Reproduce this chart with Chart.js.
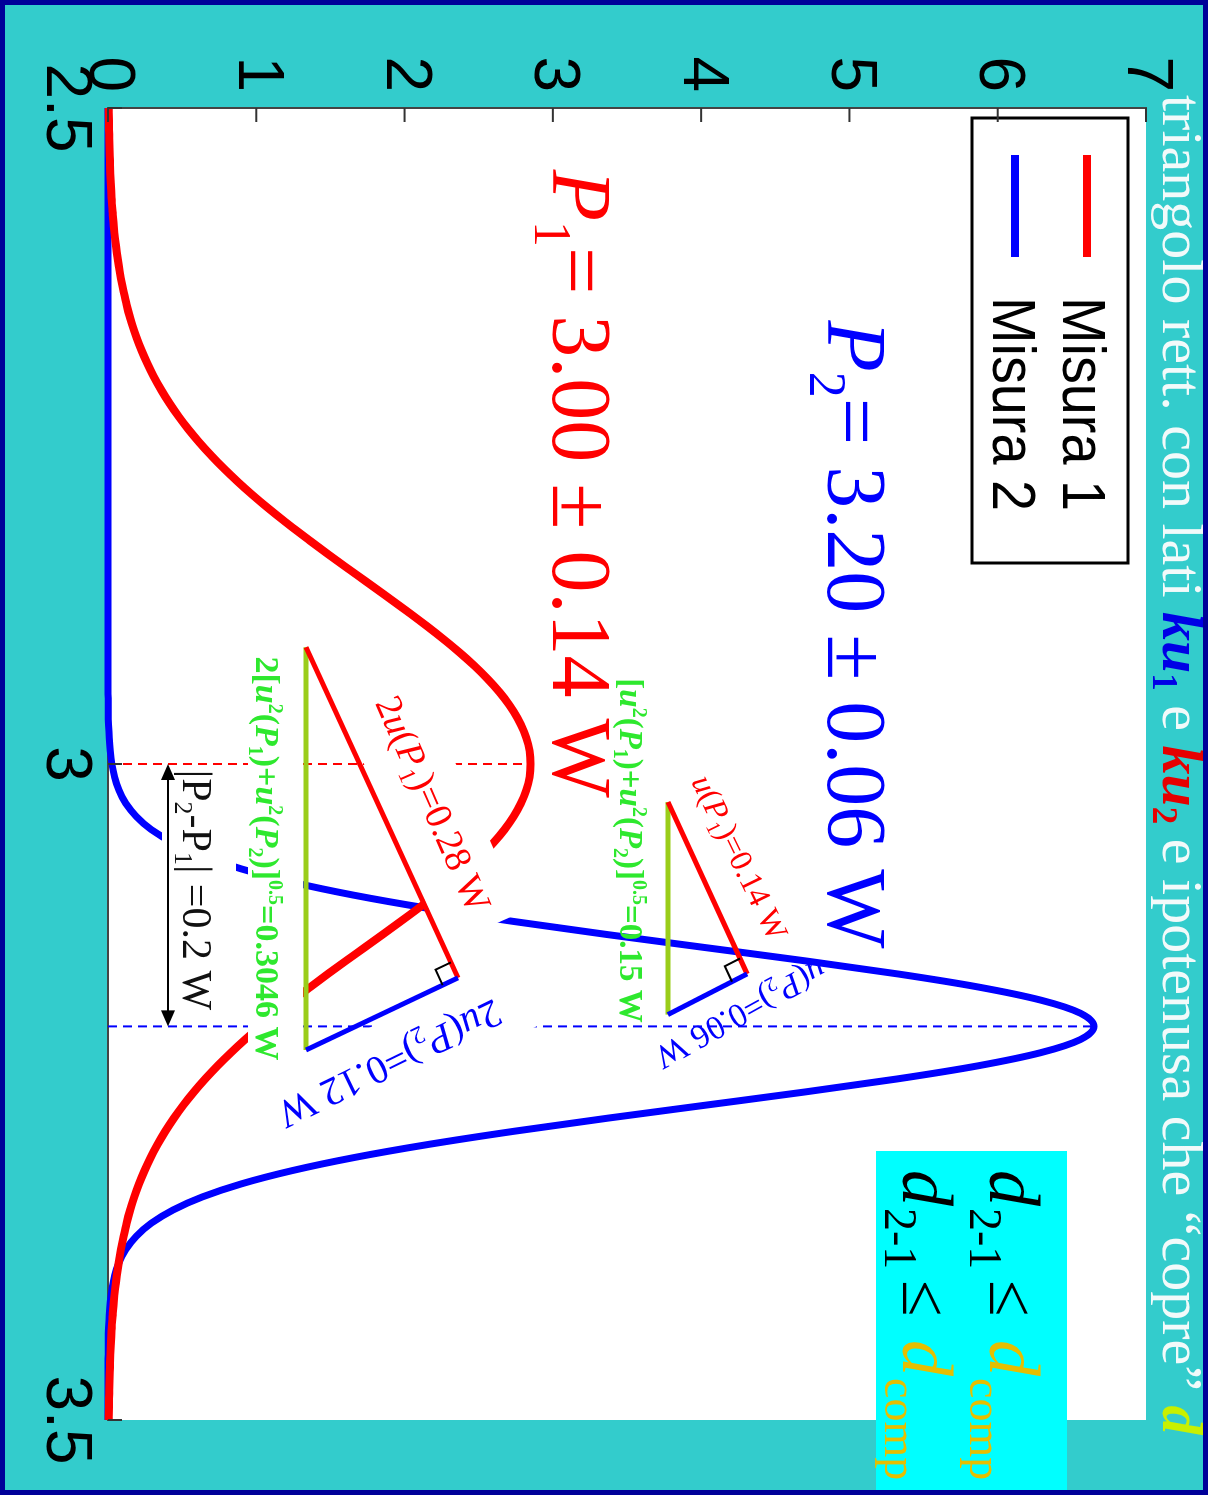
<!DOCTYPE html>
<html>
<head>
<meta charset="utf-8">
<script src="https://cdn.jsdelivr.net/npm/chart.js@4.4.1/dist/chart.umd.min.js"></script>
<style>
  html, body { margin: 0; padding: 0; background: #33cccc; overflow: hidden; }
  #slide { position: absolute; left: 0; top: 0; width: 1495px; height: 1208px;
           transform-origin: 0 0; transform: translate(1208px, 0) rotate(90deg); }
  canvas { display: block; }
</style>
</head>
<body>
<div id="slide"><canvas id="c" width="1495" height="1208"></canvas></div>
<script>
// Power values (W) along the horizontal axis
const xValues = [
  2.50, 2.51, 2.52, 2.53, 2.54, 2.55, 2.56, 2.57, 2.58, 2.59,
  2.60, 2.61, 2.62, 2.63, 2.64, 2.65, 2.66, 2.67, 2.68, 2.69,
  2.70, 2.71, 2.72, 2.73, 2.74, 2.75, 2.76, 2.77, 2.78, 2.79,
  2.80, 2.81, 2.82, 2.83, 2.84, 2.85, 2.86, 2.87, 2.88, 2.89,
  2.90, 2.91, 2.92, 2.93, 2.94, 2.95, 2.96, 2.97, 2.98, 2.99,
  3.00, 3.01, 3.02, 3.03, 3.04, 3.05, 3.06, 3.07, 3.08, 3.09,
  3.10, 3.11, 3.12, 3.13, 3.14, 3.15, 3.16, 3.17, 3.18, 3.19,
  3.20, 3.21, 3.22, 3.23, 3.24, 3.25, 3.26, 3.27, 3.28, 3.29,
  3.30, 3.31, 3.32, 3.33, 3.34, 3.35, 3.36, 3.37, 3.38, 3.39,
  3.40, 3.41, 3.42, 3.43, 3.44, 3.45, 3.46, 3.47, 3.48, 3.49,
  3.50
];

// Probability density of measurement 1 (P1 = 3.00 ± 0.14 W)
const misura1 = [
  0.005, 0.006, 0.008, 0.010, 0.013, 0.016, 0.020, 0.025, 0.032, 0.039,
  0.048, 0.059, 0.072, 0.087, 0.105, 0.125, 0.149, 0.177, 0.209, 0.246,
  0.287, 0.334, 0.386, 0.444, 0.508, 0.579, 0.656, 0.739, 0.829, 0.925,
  1.027, 1.135, 1.247, 1.364, 1.483, 1.605, 1.729, 1.852, 1.974, 2.093,
  2.208, 2.318, 2.421, 2.515, 2.600, 2.674, 2.736, 2.785, 2.821, 2.843,
  2.850, 2.843, 2.821, 2.785, 2.736, 2.674, 2.600, 2.515, 2.421, 2.318,
  2.208, 2.093, 1.974, 1.852, 1.729, 1.605, 1.483, 1.364, 1.247, 1.135,
  1.027, 0.925, 0.829, 0.739, 0.656, 0.579, 0.508, 0.444, 0.386, 0.334,
  0.287, 0.246, 0.209, 0.177, 0.149, 0.125, 0.105, 0.087, 0.072, 0.059,
  0.048, 0.039, 0.032, 0.025, 0.020, 0.016, 0.013, 0.010, 0.008, 0.006,
  0.005
];

// Probability density of measurement 2 (P2 = 3.20 ± 0.06 W)
const misura2 = [
  0, 0, 0, 0, 0, 0, 0, 0, 0, 0,
  0, 0, 0, 0, 0, 0, 0, 0, 0, 0,
  0, 0, 0, 0, 0, 0, 0, 0, 0, 0,
  0, 0, 0, 0, 0, 0, 0, 0, 0, 0,
  0, 0, 0, 0, 0, 0.001, 0.002, 0.004, 0.008, 0.015,
  0.026, 0.044, 0.074, 0.120, 0.190, 0.292, 0.437, 0.636, 0.900, 1.239,
  1.658, 2.159, 2.734, 3.367, 4.033, 4.699, 5.325, 5.869, 6.291, 6.558,
  6.650, 6.558, 6.291, 5.869, 5.325, 4.699, 4.033, 3.367, 2.734, 2.159,
  1.658, 1.239, 0.900, 0.636, 0.437, 0.292, 0.190, 0.120, 0.074, 0.044,
  0.026, 0.015, 0.008, 0.004, 0.002, 0.001, 0, 0, 0, 0,
  0
];

const seriesNames = ['Misura 1', 'Misura 2'];
const seriesColors = ['#ff0000', '#0000ff'];
const means = [3.00, 3.20];
const xTicks = [2.5, 3, 3.5];
const yTicks = [0, 1, 2, 3, 4, 5, 6, 7];

// Triangle vertices (x in W, y in density units): g1/g2 = hypotenuse ends, r = right angle
const triSmall = { g1: [3.029, 3.776], g2: [3.191, 3.776], r: [3.160, 4.310] };
const triLarge = { g1: [2.911, 1.335], g2: [3.218, 1.335], r: [3.163, 2.360] };
// Double arrow marking |P2 - P1|
const arrowSpan = [3.00, 3.20];
const arrowLevel = 0.405;

const SERIF = '"Liberation Serif", "Times New Roman", serif';
const SANS = '"Liberation Sans", Arial, sans-serif';

function seg(t, size, opt) {
  return Object.assign({ t: t, size: size, style: '', color: '#000', shift: 0, family: SERIF, sx: 1 }, opt || {});
}
function fontOf(s) { return (s.style + ' ' + s.size + 'px ' + s.family).trim(); }
function richWidth(ctx, segs) {
  let w = 0;
  for (const s of segs) { ctx.font = fontOf(s); w += ctx.measureText(s.t).width * s.sx; }
  return w;
}
// Draws a run of mixed-style text; anchor is the text centre (align 'center') or baseline start ('left')
function drawRich(ctx, segs, x, y, o) {
  o = o || {};
  ctx.save();
  ctx.translate(x, y);
  if (o.angle) ctx.rotate(o.angle * Math.PI / 180);
  const w = richWidth(ctx, segs);
  let cx = o.align === 'center' ? -w / 2 : 0;
  if (o.box) {
    ctx.fillStyle = '#ffffff';
    ctx.fillRect(o.box[0], -o.box[2], o.box[1] - o.box[0], o.box[2] + o.box[3]);
  }
  ctx.textAlign = 'left';
  ctx.textBaseline = 'alphabetic';
  const base = o.base || 0;
  for (const s of segs) {
    ctx.font = fontOf(s);
    ctx.fillStyle = s.color;
    ctx.save();
    ctx.translate(cx, base + s.shift);
    ctx.scale(s.sx, 1);
    ctx.fillText(s.t, 0, 0);
    ctx.restore();
    cx += ctx.measureText(s.t).width * s.sx;
  }
  ctx.restore();
}

// Text runs of the annotations
const RED = '#ff0000', BLUE = '#0000ff', GREEN = '#2ee82e', BLACK = '#111111';
function uLabel(prefix, idx, value, size, color) {
  const sub = Math.round(size * 0.62);
  const out = [];
  if (prefix) out.push(seg(prefix, size, { color: color }));
  out.push(seg('u', size, { style: 'italic', color: color }));
  out.push(seg('(', size, { color: color }));
  out.push(seg('P', size, { style: 'italic', color: color }));
  out.push(seg(idx, sub, { color: color, shift: size * 0.2 }));
  out.push(seg(')=' + value + ' W', size, { color: color }));
  return out;
}
function quadLabel(prefix, value, size) {
  const sm = Math.round(size * 0.6);
  const b = 'bold', bi = 'bold italic';
  const out = [];
  out.push(seg(prefix + '[', size, { style: b, color: GREEN }));
  out.push(seg('u', size, { style: bi, color: GREEN }));
  out.push(seg('2', sm, { style: b, color: GREEN, shift: -size * 0.38 }));
  out.push(seg('(', size, { style: b, color: GREEN }));
  out.push(seg('P', size, { style: bi, color: GREEN }));
  out.push(seg('1', sm, { style: b, color: GREEN, shift: size * 0.2 }));
  out.push(seg(')+', size, { style: b, color: GREEN }));
  out.push(seg('u', size, { style: bi, color: GREEN }));
  out.push(seg('2', sm, { style: b, color: GREEN, shift: -size * 0.38 }));
  out.push(seg('(', size, { style: b, color: GREEN }));
  out.push(seg('P', size, { style: bi, color: GREEN }));
  out.push(seg('2', sm, { style: b, color: GREEN, shift: size * 0.2 }));
  out.push(seg(')]', size, { style: b, color: GREEN }));
  out.push(seg('0.5', sm, { style: b, color: GREEN, shift: -size * 0.38 }));
  out.push(seg('=' + value + ' W', size, { style: b, color: GREEN }));
  return out;
}

const labels = [
  { segs: uLabel('', '1', '0.14', 32, RED), x: 3.071, y: 4.265, angle: -26, size: 32 },
  { segs: uLabel('', '2', '0.06', 34, BLUE), x: 3.191, y: 4.270, angle: 61, size: 34 },
  { segs: quadLabel('', '0.15', 33), x: 3.066, y: 3.533, angle: 0, size: 33 },
  { segs: uLabel('2', '1', '0.28', 38, RED), x: 3.030, y: 2.198, angle: -24, size: 38, box: [-132, 135, 36, 48] },
  { segs: uLabel('2', '2', '0.12', 40, BLUE), x: 3.229, y: 1.902, angle: 64, size: 40, box: [-160, 128, 30, 42] },
  { segs: quadLabel('2', '0.3046', 34), x: 3.072, y: 1.079, angle: 0, size: 34, box: [-222, 222, 35, 20] },
  { segs: [seg('|P', 42, { color: BLACK }), seg('2', 26, { color: BLACK, shift: 8 }), seg('-P', 42, { color: BLACK }),
           seg('1', 26, { color: BLACK, shift: 8 }), seg('| =0.2 W', 42, { color: BLACK })],
    x: 3.096, y: 0.607, angle: 0, size: 42, box: [-120, 122, 38, 36] }
];

function bigLabel(idx, text, color) {
  return [seg('P', 84, { style: 'italic', color: color }),
          seg(idx, 52, { color: color, shift: 18 }),
          seg('= ' + text + ' W', 84, { color: color })];
}
const bigLabels = [
  { segs: bigLabel('1', '3.00 \u00B1 0.14', RED), x: 2.547, y: 3.00 },
  { segs: bigLabel('2', '3.20 \u00B1 0.06', BLUE), x: 2.662, y: 4.855 }
];

function line(ctx, a, b, color, w, dash) {
  ctx.save();
  ctx.strokeStyle = color; ctx.lineWidth = w; ctx.lineCap = 'butt';
  if (dash) ctx.setLineDash(dash);
  ctx.beginPath(); ctx.moveTo(a[0], a[1]); ctx.lineTo(b[0], b[1]); ctx.stroke();
  ctx.restore();
}

function drawTriangle(ctx, xs, ys, t) {
  const P = p => [xs.getPixelForValue(p[0]), ys.getPixelForValue(p[1])];
  const g1 = P(t.g1), g2 = P(t.g2), r = P(t.r);
  line(ctx, g1, g2, '#9acd1a', 5);
  line(ctx, g1, r, RED, 5);
  line(ctx, r, g2, BLUE, 5);
  // right-angle marker
  const unit = (a, b) => { const dx = b[0] - a[0], dy = b[1] - a[1], l = Math.hypot(dx, dy); return [dx / l, dy / l]; };
  const a = unit(r, g1), b = unit(r, g2), s = 17;
  ctx.save();
  ctx.strokeStyle = '#000'; ctx.lineWidth = 2;
  ctx.beginPath();
  ctx.moveTo(r[0] + a[0] * s, r[1] + a[1] * s);
  ctx.lineTo(r[0] + (a[0] + b[0]) * s, r[1] + (a[1] + b[1]) * s);
  ctx.lineTo(r[0] + b[0] * s, r[1] + b[1] * s);
  ctx.stroke();
  ctx.restore();
}

function arrowHead(ctx, tip, dir) {
  const L = 16, W = 7;
  ctx.beginPath();
  ctx.moveTo(tip[0], tip[1]);
  ctx.lineTo(tip[0] - dir * L, tip[1] - W);
  ctx.lineTo(tip[0] - dir * L, tip[1] + W);
  ctx.closePath();
  ctx.fill();
}

const slidePlugin = {
  id: 'slide',
  beforeDraw(chart) {
    const { ctx, chartArea: a, width, height } = chart;
    ctx.save();
    ctx.fillStyle = '#33cccc';
    ctx.fillRect(0, 0, width, height);
    ctx.fillStyle = '#ffffff';
    ctx.fillRect(a.left, a.top, a.right - a.left, a.bottom - a.top);
    ctx.restore();
  },
  beforeDatasetsDraw(chart) {
    const { ctx, scales: { x: xs, y: ys } } = chart;
    const series = [misura1, misura2];
    for (let k = 0; k < 2; k++) {
      const i = xValues.findIndex(v => Math.abs(v - means[k]) < 1e-9);
      const px = xs.getPixelForValue(means[k]);
      line(ctx, [px, ys.getPixelForValue(0)], [px, ys.getPixelForValue(series[k][i])], seriesColors[k], 2, [9, 6]);
    }
  },
  afterDatasetsDraw(chart) {
    const { ctx, scales: { x: xs, y: ys } } = chart;
    // labels that sit on opaque white boxes first
    for (const L of labels.filter(l => l.box)) {
      drawRich(ctx, L.segs, xs.getPixelForValue(L.x), ys.getPixelForValue(L.y),
               { align: 'center', angle: L.angle, box: L.box, base: L.size * 0.35 });
    }
    drawTriangle(ctx, xs, ys, triSmall);
    drawTriangle(ctx, xs, ys, triLarge);
    for (const L of labels.filter(l => !l.box)) {
      drawRich(ctx, L.segs, xs.getPixelForValue(L.x), ys.getPixelForValue(L.y),
               { align: 'center', angle: L.angle, base: L.size * 0.35 });
    }
    // |P2 - P1| double arrow
    const ay = ys.getPixelForValue(arrowLevel);
    const a0 = xs.getPixelForValue(arrowSpan[0]), a1 = xs.getPixelForValue(arrowSpan[1]);
    ctx.save();
    ctx.fillStyle = '#000';
    line(ctx, [a0 + 10, ay], [a1 - 10, ay], '#000', 2);
    arrowHead(ctx, [a0, ay], -1);
    arrowHead(ctx, [a1, ay], 1);
    ctx.restore();
    // P1 / P2 results
    for (const B of bigLabels) {
      drawRich(ctx, B.segs, xs.getPixelForValue(B.x), ys.getPixelForValue(B.y), { align: 'left' });
    }
    // legend
    ctx.save();
    ctx.fillStyle = '#fff';
    ctx.fillRect(118, 80, 445, 156);
    ctx.strokeStyle = '#000'; ctx.lineWidth = 3;
    ctx.strokeRect(118, 80, 445, 156);
    const rows = [{ v: 121, base: 145 }, { v: 193, base: 215 }];
    for (let k = 0; k < 2; k++) {
      line(ctx, [155, rows[k].v], [257, rows[k].v], seriesColors[k], 8);
      drawRich(ctx, [seg(seriesNames[k], 62, { family: SANS, color: '#000', sx: 0.9 })], 297, rows[k].base, { align: 'left' });
    }
    ctx.restore();
  },
  afterDraw(chart) {
    const { ctx, chartArea: a, scales: { x: xs, y: ys }, width, height } = chart;
    // inward tick marks
    ctx.save();
    ctx.strokeStyle = '#333'; ctx.lineWidth = 2;
    for (const v of yTicks) {
      const p = ys.getPixelForValue(v);
      ctx.beginPath(); ctx.moveTo(a.left, p); ctx.lineTo(a.left + 14, p); ctx.stroke();
    }
    for (const v of xTicks) {
      const p = xs.getPixelForValue(v);
      ctx.beginPath(); ctx.moveTo(p, a.bottom); ctx.lineTo(p, a.bottom - 14); ctx.stroke();
    }
    ctx.restore();
    // heading line
    const W = '#f2fafa';
    drawRich(ctx, [
      seg('triangolo rett. con lati ', 58, { color: W }),
      seg('ku', 58, { style: 'italic bold', color: '#0000e6' }),
      seg('1', 35, { style: 'bold', color: '#0000e6', shift: 10 }),
      seg(' e ', 58, { color: W }),
      seg('ku', 58, { style: 'italic bold', color: '#e60000' }),
      seg('2', 35, { style: 'bold', color: '#e60000', shift: 10 }),
      seg(' e ipotenusa che \u201Ccopre\u201D ', 58, { color: W }),
      seg('d', 58, { style: 'italic bold', color: '#c8f000' })
    ], 95, 45, { align: 'left' });
    // compatibility box
    ctx.save();
    ctx.fillStyle = '#00ffff';
    ctx.fillRect(1151, 141, 360, 191);
    const Y = '#e6be00';
    const rowsD = [{ b: 218, s: 238 }, { b: 305, s: 323 }];
    for (const r of rowsD) {
      drawRich(ctx, [seg('d', 72, { style: 'italic' })], 1170, r.b, { align: 'left' });
      drawRich(ctx, [seg('2-1', 46)], 1208, r.s, { align: 'left' });
      drawRich(ctx, [seg('\u2264', 66)], 1280, r.b, { align: 'left' });
      drawRich(ctx, [seg('d', 72, { style: 'italic', color: Y })], 1340, r.b, { align: 'left' });
      drawRich(ctx, [seg('comp', 46, { color: Y })], 1378, r.s, { align: 'left' });
    }
    ctx.restore();
    // frame
    ctx.save();
    ctx.strokeStyle = '#000099'; ctx.lineWidth = 10;
    ctx.strokeRect(0, 0, width, height);
    ctx.restore();
  }
};

const ctx = document.getElementById('c').getContext('2d');
new Chart(ctx, {
  type: 'line',
  data: {
    datasets: [misura1, misura2].map((ys, k) => ({
      label: seriesNames[k],
      data: xValues.map((x, i) => ({ x: x, y: ys[i] })),
      borderColor: seriesColors[k],
      borderWidth: k === 0 ? 8 : 7,
      pointRadius: 0,
      fill: false,
      cubicInterpolationMode: 'monotone',
      clip: 12
    }))
  },
  options: {
    responsive: false,
    animation: false,
    devicePixelRatio: 1,
    layout: { padding: { left: 0, top: 62, right: 75, bottom: 0 } },
    plugins: { legend: { display: false }, tooltip: { enabled: false } },
    scales: {
      x: {
        type: 'linear', min: 2.5, max: 3.5,
        afterBuildTicks: s => { s.ticks = xTicks.map(v => ({ value: v })); },
        grid: { display: false, drawTicks: false },
        border: { display: true, color: '#444', width: 2 },
        ticks: { color: '#000', font: { family: SANS, size: 64 }, padding: 5, maxRotation: 0,
                 callback: v => String(v) },
        afterFit: s => { s.height = 108; }
      },
      y: {
        type: 'linear', min: 0, max: 7,
        afterBuildTicks: s => { s.ticks = yTicks.map(v => ({ value: v })); },
        grid: { display: false, drawTicks: false },
        border: { display: true, color: '#444', width: 2 },
        ticks: { color: '#000', font: { family: SANS, size: 64 }, padding: 16,
                 callback: v => String(v) },
        afterFit: s => { s.width = 108; }
      }
    }
  },
  plugins: [slidePlugin]
});
</script>
</body>
</html>
